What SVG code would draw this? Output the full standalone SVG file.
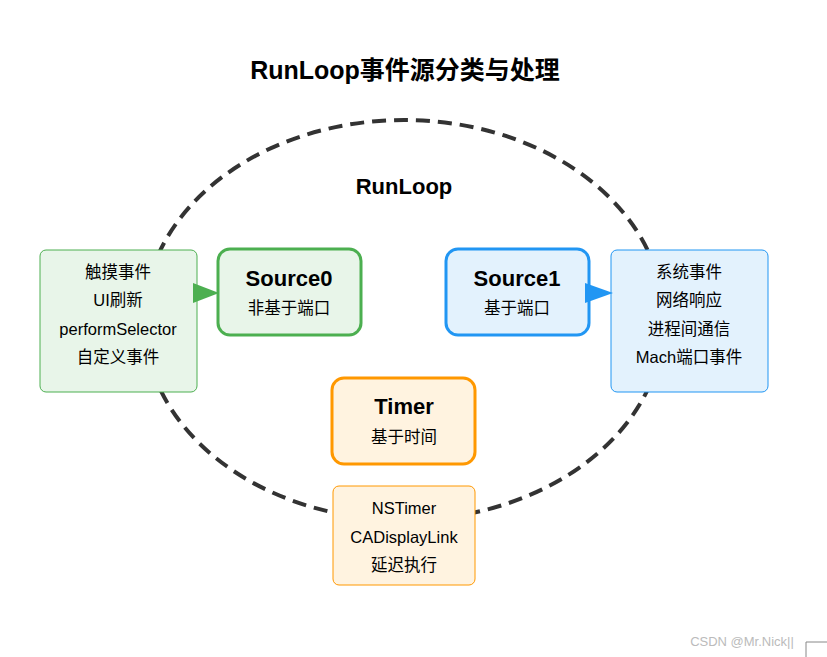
<svg xmlns="http://www.w3.org/2000/svg" width="827" height="657" viewBox="0 0 827 657">
<style>
text{font-family:"Liberation Sans","Noto Sans CJK SC",Arial,sans-serif;fill:#000;text-anchor:middle}
.title{font-size:25px;font-weight:bold}
.h{font-size:22px;font-weight:bold}
.t{font-size:16.5px}
.loop{fill:none;stroke:#333;stroke-width:4;stroke-dasharray:14 8}
.g{fill:#e8f5e9;stroke:#4caf50}
.b{fill:#e3f2fd;stroke:#2196f3}
.o{fill:#fff3e0;stroke:#ff9800}
</style>
<rect width="827" height="657" fill="#fff"/>
<text class="title" x="405" y="79">RunLoop事件源分类与处理</text>
<ellipse class="loop" cx="404" cy="320" rx="260" ry="200"/>
<text class="h" x="404" y="194">RunLoop</text>

<g id="events0">
<rect class="g" x="40" y="250" width="157" height="142" rx="6" stroke-width="1"/>
<text class="t" x="118" y="278">触摸事件</text>
<text class="t" x="118" y="306">UI刷新</text>
<text class="t" x="118" y="335">performSelector</text>
<text class="t" x="118" y="363">自定义事件</text>
</g>
<g id="source0">
<rect class="g" x="218" y="249" width="143" height="86" rx="12" stroke-width="3"/>
<text class="h" x="289" y="286">Source0</text>
<text class="t" x="289" y="314">非基于端口</text>
</g>
<g id="source1">
<rect class="b" x="446" y="249" width="143" height="86" rx="12" stroke-width="3"/>
<text class="h" x="517" y="286">Source1</text>
<text class="t" x="517" y="314">基于端口</text>
</g>
<g id="events1">
<rect class="b" x="611" y="250" width="157" height="142" rx="6" stroke-width="1"/>
<text class="t" x="689" y="278">系统事件</text>
<text class="t" x="689" y="306">网络响应</text>
<text class="t" x="689" y="335">进程间通信</text>
<text class="t" x="689" y="363">Mach端口事件</text>
</g>
<g id="timer">
<rect class="o" x="332" y="378" width="143" height="86" rx="12" stroke-width="3"/>
<text class="h" x="404" y="414">Timer</text>
<text class="t" x="404" y="443">基于时间</text>
</g>
<g id="timerEvents">
<rect class="o" x="333" y="486" width="142" height="99" rx="6" stroke-width="1"/>
<text class="t" x="404" y="514">NSTimer</text>
<text class="t" x="404" y="543">CADisplayLink</text>
<text class="t" x="404" y="571">延迟执行</text>
</g>
<g id="connectors">
<polygon points="193,283 219,293 193,303" fill="#4caf50"/>
<polygon points="585,283 613,293 585,303" fill="#2196f3"/>
</g>
<text x="742" y="646" style="font-size:13px;fill:#bbb">CSDN @Mr.Nick||</text>
<path d="M806 642 H827 M806 642 V657" stroke="#888" stroke-width="1" fill="none"/>
</svg>
